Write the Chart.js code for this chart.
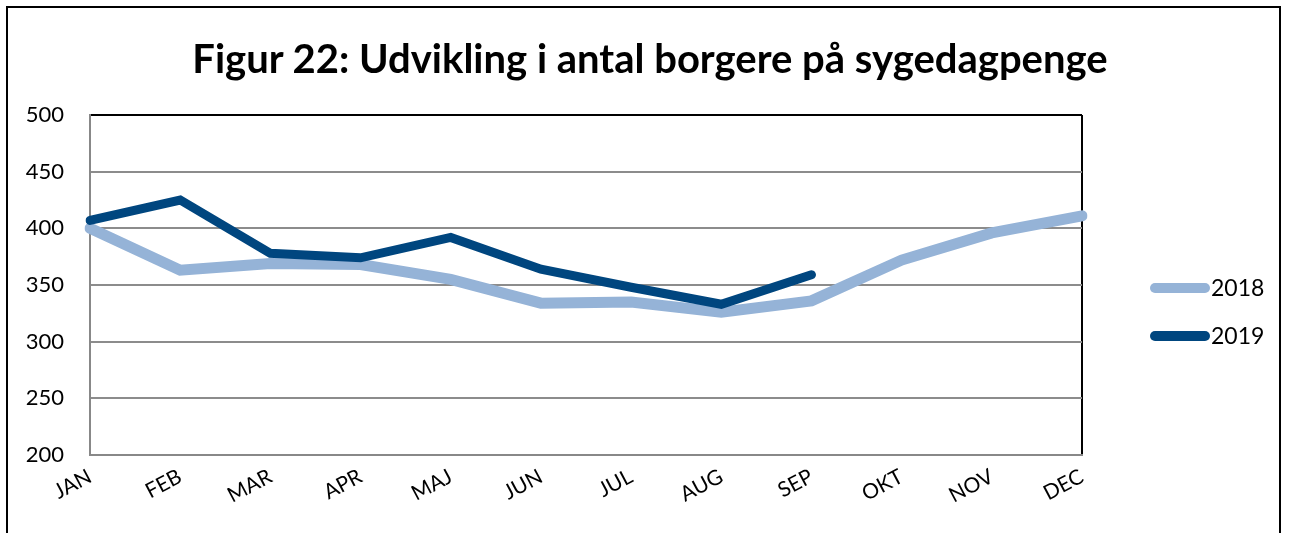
<!DOCTYPE html>
<html>
<head>
<meta charset="utf-8">
<script src="https://cdn.jsdelivr.net/npm/chart.js@4.4.0/dist/chart.umd.min.js"></script>
<style>
  html, body { margin: 0; padding: 0; background: #fff; overflow: hidden; }
  #wrap { position: relative; width: 1291px; height: 533px; }
  #frame { position: absolute; left: 6px; top: 6px; width: 1275px; height: 560px; border: 2px solid #000; box-sizing: border-box; }
  #title { position: absolute; left: 0; width: 1300px; top: 34px; text-align: center;
           font: bold 40px Lato, "Open Sans", sans-serif; color: #000; line-height: 48px; }
  canvas { position: absolute; left: 0; top: 0; }
</style>
</head>
<body>
<div id="wrap">
  <div id="frame"></div>
  <canvas id="myChart" width="1291" height="533"></canvas>
  <div id="title">Figur 22: Udvikling i antal borgere på sygedagpenge</div>
</div>
<script>
const months = ['JAN', 'FEB', 'MAR', 'APR', 'MAJ', 'JUN', 'JUL', 'AUG', 'SEP', 'OKT', 'NOV', 'DEC'];
const values2018 = [400, 363, 369, 368, 355, 334, 335, 326, 336, 372, 396, 411];
const values2019 = [407, 425, 378, 374, 392, 364, 348, 333, 359];
const yTicks = [200, 250, 300, 350, 400, 450, 500];

const FONT = 'Lato, "Open Sans", sans-serif';

// legend drawn by hand, right of the plot
const sideLegend = {
    id: 'sideLegend',
    afterDraw(chart) {
        const c = chart.ctx;
        c.save();
        chart.data.datasets.forEach((ds, i) => {
            const y = 288 + i * 48;
            c.strokeStyle = ds.borderColor;
            c.lineWidth = 10;
            c.lineCap = 'round';
            c.beginPath();
            c.moveTo(1155, y);
            c.lineTo(1205, y);
            c.stroke();
            c.fillStyle = '#000';
            c.font = '23px ' + FONT;
            c.textBaseline = 'middle';
            c.fillText(ds.label, 1211, y + 1);
        });
        c.restore();
    }
};

const ctx = document.getElementById('myChart');
new Chart(ctx, {
    type: 'line',
    data: {
        labels: months,
        datasets: [{
            label: '2018',
            data: values2018,
            borderColor: '#95b3d7',
            borderWidth: 11,
            borderCapStyle: 'round',
            pointRadius: 0,
            tension: 0,
            order: 1
        }, {
            label: '2019',
            data: values2019,
            borderColor: '#00467f',
            borderWidth: 9,
            borderCapStyle: 'round',
            pointRadius: 0,
            tension: 0,
            order: 0
        }]
    },
    options: {
        responsive: false,
        animation: false,
        layout: { padding: { left: 10, right: 209, top: 115, bottom: 0 } },
        plugins: {
            legend: { display: false },
            tooltip: { enabled: false },
            title: { display: false }
        },
        scales: {
            x: {
                grid: {
                    drawTicks: false,
                    color: (c) => c.index === months.length - 1 ? '#000' : 'rgba(0,0,0,0)',
                    lineWidth: 2
                },
                border: { color: '#888', width: 2 },
                ticks: {
                    color: '#000',
                    font: { family: FONT, size: 21 },
                    minRotation: 28,
                    maxRotation: 28,
                    padding: 9,
                    autoSkip: false
                },
                afterFit: (scale) => { scale.height = 78; }
            },
            y: {
                min: 200,
                max: 500,
                afterBuildTicks: (scale) => { scale.ticks = yTicks.map(v => ({ value: v })); },
                grid: {
                    drawTicks: false,
                    color: (c) => c.tick && c.tick.value === 500 ? '#000' : '#8c8c8c',
                    lineWidth: 2
                },
                border: { color: '#888', width: 2 },
                ticks: {
                    color: '#000',
                    font: { family: FONT, size: 22 },
                    padding: 26
                },
                afterFit: (scale) => { scale.width = 80; }
            }
        }
    },
    plugins: [sideLegend]
});
</script>
</body>
</html>
